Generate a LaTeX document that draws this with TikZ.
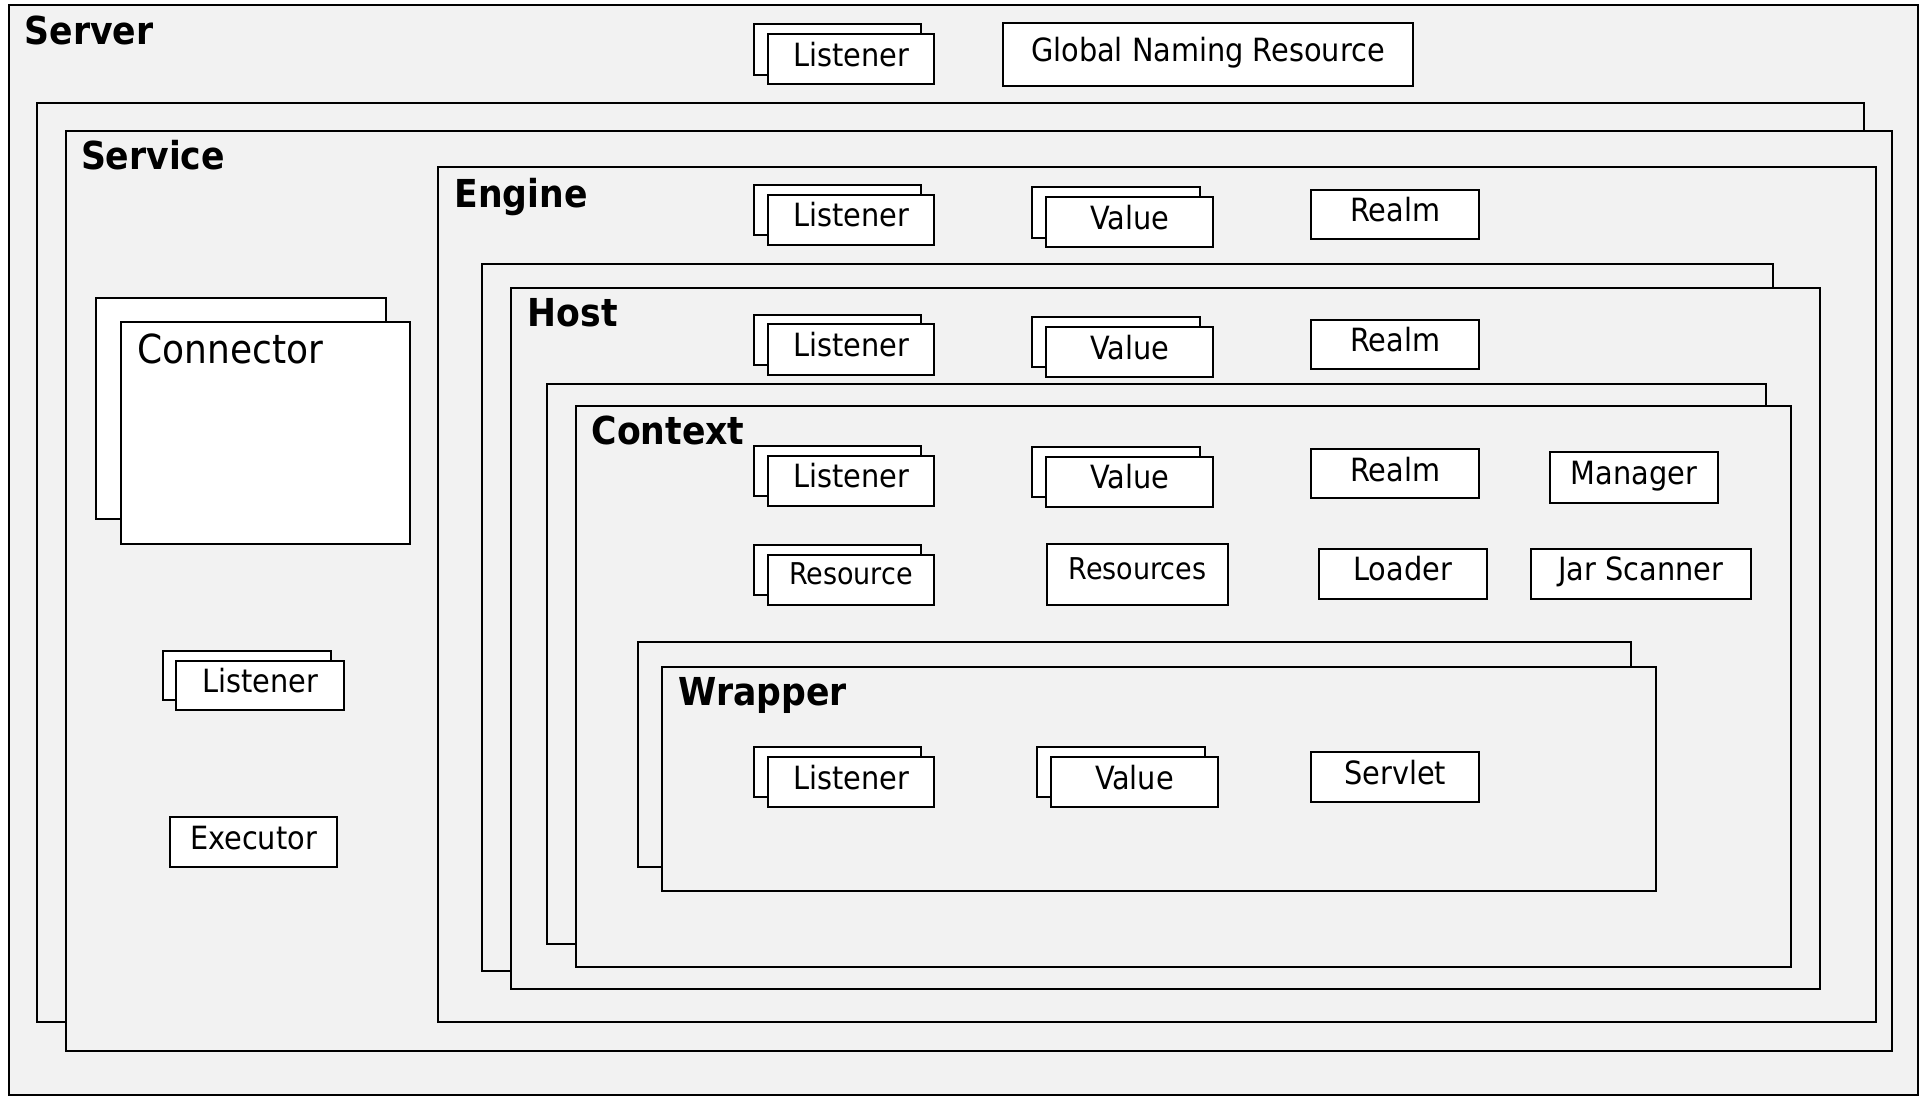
\documentclass[tikz,border=0pt]{standalone}
\usepackage{fontspec}
\setmainfont{DejaVu Sans Condensed}
\definecolor{panelgray}{HTML}{F2F2F2}
\tikzset{
  container/.style={draw=black, fill=panelgray, line width=2pt},
  lbl/.style={inner sep=0pt, anchor=base west, font=\fontsize{38.5}{40}\selectfont\bfseries},
  comp/.style={draw=black, fill=white, line width=2pt, inner sep=0pt,
    font=\fontsize{32}{34}\selectfont, text height=23.3pt, text depth=9pt},
  smalltxt/.style={font=\fontsize{30}{32}\selectfont, text height=21.9pt, text depth=12.2pt}
}
% #1 name, #2 x1, #3 y1, #4 x2, #5 y2, #6 text, #7 extra style
\newcommand\compbox[7]{%
  \node[comp,#7,minimum width={(#4-#2)*1.2245pt},minimum height={(#5-#3)*1.2245pt}]
    (#1) at ({(#2+#4)/2},{(#3+#5)/2}) {#6};}
% stacked pair: back copy shifted by (-11,-8)
\newcommand\stackbox[7]{%
  \node[comp,minimum width={(#4-#2)*1.2245pt},minimum height={(#5-#3)*1.2245pt}]
    (#1-back) at ({(#2+#4)/2-11},{(#3+#5)/2-8}) {};
  \compbox{#1}{#2}{#3}{#4}{#5}{#6}{#7}}
\begin{document}
\begin{tikzpicture}[x=1.2245pt,y=-1.2245pt]
\useasboundingbox (0,0) rectangle (1568,895);
\fill[white] (0,0) rectangle (1568,895);
% Server
\draw[container] (7,4) rectangle (1566,894);
\node[lbl] (serverlbl) at (20,36) {Server};
\stackbox{srvlistener}{627}{28}{763}{69}{Listener}{}
\compbox{gnr}{819}{19}{1154}{70}{Global Naming Resource}{}
% Service
\draw[container] (30,84) rectangle (1522,835);
\draw[container] (54,107) rectangle (1545,858);
\node[lbl] (servicelbl) at (66,138.5) {Service};
% Connector
\node[comp,minimum width={(315-78)*1.2245pt},minimum height={(424-243)*1.2245pt}] (connector-back) at ({(78+315)/2},{(243+424)/2}) {};
\node[comp,minimum width={(335-99)*1.2245pt},minimum height={(444-263)*1.2245pt}] (connector) at ({(99+335)/2},{(263+444)/2}) {};
\node[inner sep=0pt, anchor=base west, font=\fontsize{40}{42}\selectfont] (connectorlbl) at (112,297) {Connector};
\stackbox{svclistener}{144}{540}{281}{580}{Listener}{}
\compbox{executor}{139}{667}{275}{708}{Executor}{}
% Engine
\draw[container] (358,136) rectangle (1532,835);
\node[lbl] (enginelbl) at (371,169.5) {Engine};
\stackbox{englistener}{627}{159}{763}{200}{Listener}{}
\stackbox{engvalue}{854}{161}{991}{202}{Value}{}
\compbox{engrealm}{1071}{155}{1208}{195}{Realm}{}
% Host
\draw[container] (394,216) rectangle (1448,793);
\draw[container] (417,235) rectangle (1486,808);
\node[lbl] (hostlbl) at (431,266.8) {Host};
\stackbox{hostlistener}{627}{265}{763}{306}{Listener}{}
\stackbox{hostvalue}{854}{267}{991}{308}{Value}{}
\compbox{hostrealm}{1071}{261}{1208}{301}{Realm}{}
% Context
\draw[container] (447,314) rectangle (1442,771);
\draw[container] (470,331.5) rectangle (1463,789.5);
\node[lbl] (contextlbl) at (483,363.4) {Context};
\stackbox{ctxlistener}{627}{372}{763}{413}{Listener}{}
\stackbox{ctxvalue}{854}{373}{991}{414}{Value}{}
\compbox{ctxrealm}{1071}{367}{1208}{407}{Realm}{}
\compbox{manager}{1266}{369.5}{1403}{410.5}{Manager}{}
\stackbox{resource}{627}{453}{763}{494}{Resource}{smalltxt}
\compbox{resources}{855}{444}{1003}{494}{Resources}{smalltxt}
\compbox{loader}{1077}{448}{1214}{489}{Loader}{}
\compbox{jarscanner}{1250}{448}{1430}{489}{Jar Scanner}{}
% Wrapper
\draw[container] (521,524) rectangle (1332,708);
\draw[container] (541,545) rectangle (1352,728);
\node[lbl] (wrapperlbl) at (554,576.5) {Wrapper};
\stackbox{wrplistener}{627}{618}{763}{659}{Listener}{}
\stackbox{wrpvalue}{858}{618}{995}{659}{Value}{}
\compbox{servlet}{1071}{614}{1208}{655}{Servlet}{}
\end{tikzpicture}
\end{document}
